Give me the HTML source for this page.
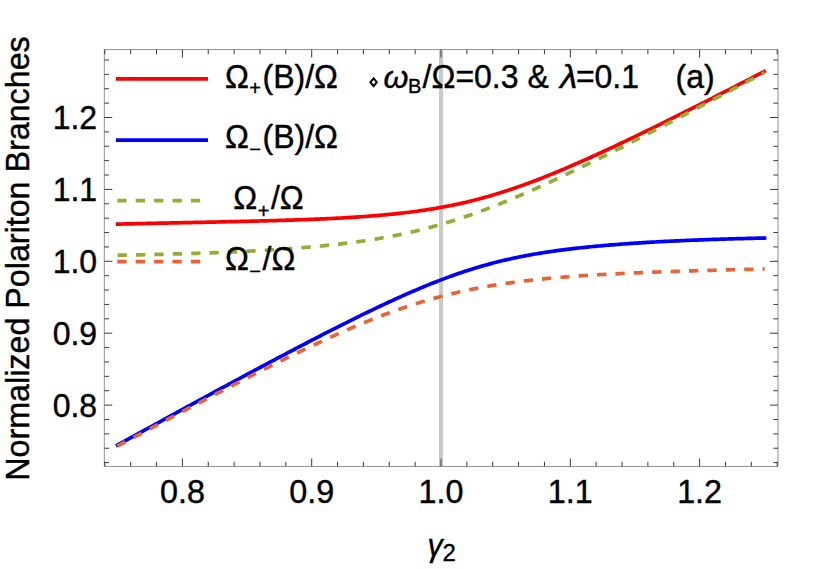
<!DOCTYPE html>
<html><head><meta charset="utf-8"><title>plot</title>
<style>
html,body{margin:0;padding:0;background:#fff;}
body{width:830px;height:569px;overflow:hidden;}
svg{display:block;}
text{font-family:"Liberation Sans",sans-serif;fill:#000;stroke:#000;stroke-width:0.4px;stroke-linejoin:round;}
.i{font-style:italic;}
</style></head><body>
<svg width="830" height="569" viewBox="0 0 830 569">
<rect x="0" y="0" width="830" height="569" fill="#ffffff"/>
<rect x="439" y="49.6" width="4.1" height="416.85" fill="#c9c9c9"/>
<g fill="none" stroke-width="3.7" stroke-linecap="butt" stroke-linejoin="round">
<path d="M115.90,224.19 L117.00,224.16 L119.00,224.11 L121.00,224.07 L123.00,224.02 L125.00,223.97 L127.00,223.92 L129.00,223.88 L131.00,223.83 L133.00,223.78 L135.00,223.74 L137.00,223.69 L139.00,223.65 L141.00,223.60 L143.00,223.56 L145.00,223.51 L147.00,223.47 L149.00,223.42 L151.00,223.38 L153.00,223.34 L155.00,223.29 L157.00,223.25 L159.00,223.21 L161.00,223.16 L163.00,223.12 L165.00,223.08 L167.00,223.03 L169.00,222.99 L171.00,222.95 L173.00,222.91 L175.00,222.87 L177.00,222.82 L179.00,222.78 L181.00,222.74 L183.00,222.70 L185.00,222.66 L187.00,222.61 L189.00,222.57 L191.00,222.53 L193.00,222.49 L195.00,222.45 L197.00,222.41 L199.00,222.36 L201.00,222.32 L203.00,222.28 L205.00,222.24 L207.00,222.20 L209.00,222.15 L211.00,222.11 L213.00,222.07 L215.00,222.03 L217.00,221.98 L219.00,221.94 L221.00,221.90 L223.00,221.85 L225.00,221.81 L227.00,221.77 L229.00,221.72 L231.00,221.68 L233.00,221.63 L235.00,221.59 L237.00,221.54 L239.00,221.50 L241.00,221.45 L243.00,221.40 L245.00,221.36 L247.00,221.31 L249.00,221.26 L251.00,221.21 L253.00,221.16 L255.00,221.11 L257.00,221.06 L259.00,221.01 L261.00,220.96 L263.00,220.91 L265.00,220.85 L267.00,220.80 L269.00,220.75 L271.00,220.69 L273.00,220.64 L275.00,220.58 L277.00,220.52 L279.00,220.46 L281.00,220.40 L283.00,220.34 L285.00,220.28 L287.00,220.22 L289.00,220.16 L291.00,220.09 L293.00,220.03 L295.00,219.96 L297.00,219.89 L299.00,219.82 L301.00,219.75 L303.00,219.68 L305.00,219.61 L307.00,219.53 L309.00,219.45 L311.00,219.38 L313.00,219.30 L315.00,219.22 L317.00,219.13 L319.00,219.05 L321.00,218.96 L323.00,218.87 L325.00,218.78 L327.00,218.69 L329.00,218.60 L331.00,218.50 L333.00,218.40 L335.00,218.30 L337.00,218.20 L339.00,218.09 L341.00,217.99 L343.00,217.88 L345.00,217.76 L347.00,217.65 L349.00,217.53 L351.00,217.41 L353.00,217.29 L355.00,217.16 L357.00,217.03 L359.00,216.90 L361.00,216.76 L363.00,216.62 L365.00,216.48 L367.00,216.33 L369.00,216.18 L371.00,216.03 L373.00,215.87 L375.00,215.71 L377.00,215.55 L379.00,215.38 L381.00,215.20 L383.00,215.03 L385.00,214.84 L387.00,214.66 L389.00,214.46 L391.00,214.27 L393.00,214.07 L395.00,213.86 L397.00,213.65 L399.00,213.43 L401.00,213.21 L403.00,212.98 L405.00,212.75 L407.00,212.51 L409.00,212.26 L411.00,212.01 L413.00,211.75 L415.00,211.49 L417.00,211.22 L419.00,210.94 L421.00,210.66 L423.00,210.37 L425.00,210.07 L427.00,209.77 L429.00,209.45 L431.00,209.13 L433.00,208.81 L435.00,208.47 L437.00,208.13 L439.00,207.78 L441.00,207.42 L443.00,207.05 L445.00,206.68 L447.00,206.30 L449.00,205.91 L451.00,205.51 L453.00,205.10 L455.00,204.68 L457.00,204.25 L459.00,203.82 L461.00,203.37 L463.00,202.92 L465.00,202.46 L467.00,201.99 L469.00,201.51 L471.00,201.02 L473.00,200.52 L475.00,200.01 L477.00,199.50 L479.00,198.97 L481.00,198.44 L483.00,197.89 L485.00,197.34 L487.00,196.77 L489.00,196.20 L491.00,195.62 L493.00,195.03 L495.00,194.43 L497.00,193.83 L499.00,193.21 L501.00,192.58 L503.00,191.95 L505.00,191.31 L507.00,190.66 L509.00,190.00 L511.00,189.33 L513.00,188.65 L515.00,187.97 L517.00,187.28 L519.00,186.58 L521.00,185.87 L523.00,185.16 L525.00,184.43 L527.00,183.70 L529.00,182.97 L531.00,182.22 L533.00,181.47 L535.00,180.71 L537.00,179.95 L539.00,179.17 L541.00,178.40 L543.00,177.61 L545.00,176.82 L547.00,176.02 L549.00,175.22 L551.00,174.41 L553.00,173.60 L555.00,172.78 L557.00,171.95 L559.00,171.12 L561.00,170.28 L563.00,169.44 L565.00,168.60 L567.00,167.74 L569.00,166.89 L571.00,166.03 L573.00,165.16 L575.00,164.29 L577.00,163.42 L579.00,162.54 L581.00,161.66 L583.00,160.77 L585.00,159.88 L587.00,158.99 L589.00,158.09 L591.00,157.19 L593.00,156.28 L595.00,155.37 L597.00,154.46 L599.00,153.55 L601.00,152.63 L603.00,151.71 L605.00,150.78 L607.00,149.85 L609.00,148.92 L611.00,147.99 L613.00,147.05 L615.00,146.11 L617.00,145.17 L619.00,144.23 L621.00,143.28 L623.00,142.33 L625.00,141.38 L627.00,140.43 L629.00,139.47 L631.00,138.51 L633.00,137.55 L635.00,136.59 L637.00,135.62 L639.00,134.65 L641.00,133.69 L643.00,132.71 L645.00,131.74 L647.00,130.77 L649.00,129.79 L651.00,128.81 L653.00,127.83 L655.00,126.85 L657.00,125.87 L659.00,124.88 L661.00,123.89 L663.00,122.91 L665.00,121.92 L667.00,120.93 L669.00,119.93 L671.00,118.94 L673.00,117.94 L675.00,116.95 L677.00,115.95 L679.00,114.95 L681.00,113.95 L683.00,112.95 L685.00,111.94 L687.00,110.94 L689.00,109.93 L691.00,108.93 L693.00,107.92 L695.00,106.91 L697.00,105.90 L699.00,104.89 L701.00,103.88 L703.00,102.86 L705.00,101.85 L707.00,100.83 L709.00,99.82 L711.00,98.80 L713.00,97.78 L715.00,96.76 L717.00,95.74 L719.00,94.72 L721.00,93.70 L723.00,92.68 L725.00,91.65 L727.00,90.63 L729.00,89.61 L731.00,88.58 L733.00,87.55 L735.00,86.53 L737.00,85.50 L739.00,84.47 L741.00,83.44 L743.00,82.41 L745.00,81.38 L747.00,80.35 L749.00,79.31 L751.00,78.28 L753.00,77.25 L755.00,76.21 L757.00,75.18 L759.00,74.14 L761.00,73.11 L763.00,72.07 L765.00,71.03 L765.80,70.62" stroke="#ff0000"/>
<path d="M115.90,445.92 L117.00,445.32 L119.00,444.22 L121.00,443.12 L123.00,442.02 L125.00,440.92 L127.00,439.82 L129.00,438.72 L131.00,437.63 L133.00,436.53 L135.00,435.43 L137.00,434.33 L139.00,433.23 L141.00,432.14 L143.00,431.04 L145.00,429.94 L147.00,428.85 L149.00,427.75 L151.00,426.65 L153.00,425.56 L155.00,424.46 L157.00,423.37 L159.00,422.27 L161.00,421.18 L163.00,420.08 L165.00,418.99 L167.00,417.89 L169.00,416.80 L171.00,415.71 L173.00,414.61 L175.00,413.52 L177.00,412.43 L179.00,411.34 L181.00,410.24 L183.00,409.15 L185.00,408.06 L187.00,406.97 L189.00,405.88 L191.00,404.79 L193.00,403.70 L195.00,402.61 L197.00,401.52 L199.00,400.44 L201.00,399.35 L203.00,398.26 L205.00,397.18 L207.00,396.09 L209.00,395.00 L211.00,393.92 L213.00,392.83 L215.00,391.75 L217.00,390.67 L219.00,389.58 L221.00,388.50 L223.00,387.42 L225.00,386.34 L227.00,385.26 L229.00,384.18 L231.00,383.10 L233.00,382.02 L235.00,380.94 L237.00,379.87 L239.00,378.79 L241.00,377.71 L243.00,376.64 L245.00,375.56 L247.00,374.49 L249.00,373.42 L251.00,372.35 L253.00,371.27 L255.00,370.20 L257.00,369.13 L259.00,368.07 L261.00,367.00 L263.00,365.93 L265.00,364.87 L267.00,363.80 L269.00,362.74 L271.00,361.67 L273.00,360.61 L275.00,359.55 L277.00,358.49 L279.00,357.43 L281.00,356.38 L283.00,355.32 L285.00,354.26 L287.00,353.21 L289.00,352.16 L291.00,351.11 L293.00,350.05 L295.00,349.01 L297.00,347.96 L299.00,346.91 L301.00,345.87 L303.00,344.82 L305.00,343.78 L307.00,342.74 L309.00,341.70 L311.00,340.67 L313.00,339.63 L315.00,338.60 L317.00,337.57 L319.00,336.53 L321.00,335.51 L323.00,334.48 L325.00,333.46 L327.00,332.43 L329.00,331.41 L331.00,330.39 L333.00,329.38 L335.00,328.36 L337.00,327.35 L339.00,326.34 L341.00,325.33 L343.00,324.33 L345.00,323.32 L347.00,322.32 L349.00,321.33 L351.00,320.33 L353.00,319.34 L355.00,318.35 L357.00,317.36 L359.00,316.38 L361.00,315.40 L363.00,314.42 L365.00,313.45 L367.00,312.48 L369.00,311.51 L371.00,310.55 L373.00,309.59 L375.00,308.63 L377.00,307.68 L379.00,306.73 L381.00,305.78 L383.00,304.84 L385.00,303.90 L387.00,302.97 L389.00,302.04 L391.00,301.12 L393.00,300.20 L395.00,299.29 L397.00,298.38 L399.00,297.47 L401.00,296.57 L403.00,295.68 L405.00,294.79 L407.00,293.90 L409.00,293.03 L411.00,292.16 L413.00,291.29 L415.00,290.43 L417.00,289.58 L419.00,288.73 L421.00,287.89 L423.00,287.05 L425.00,286.23 L427.00,285.41 L429.00,284.59 L431.00,283.79 L433.00,282.99 L435.00,282.20 L437.00,281.41 L439.00,280.64 L441.00,279.87 L443.00,279.11 L445.00,278.36 L447.00,277.62 L449.00,276.88 L451.00,276.16 L453.00,275.44 L455.00,274.73 L457.00,274.03 L459.00,273.34 L461.00,272.66 L463.00,271.99 L465.00,271.33 L467.00,270.67 L469.00,270.03 L471.00,269.40 L473.00,268.77 L475.00,268.16 L477.00,267.55 L479.00,266.96 L481.00,266.37 L483.00,265.79 L485.00,265.23 L487.00,264.67 L489.00,264.12 L491.00,263.59 L493.00,263.06 L495.00,262.54 L497.00,262.03 L499.00,261.53 L501.00,261.04 L503.00,260.56 L505.00,260.09 L507.00,259.63 L509.00,259.18 L511.00,258.73 L513.00,258.30 L515.00,257.87 L517.00,257.45 L519.00,257.04 L521.00,256.64 L523.00,256.24 L525.00,255.86 L527.00,255.48 L529.00,255.11 L531.00,254.75 L533.00,254.39 L535.00,254.05 L537.00,253.71 L539.00,253.37 L541.00,253.05 L543.00,252.73 L545.00,252.41 L547.00,252.11 L549.00,251.81 L551.00,251.51 L553.00,251.22 L555.00,250.94 L557.00,250.67 L559.00,250.39 L561.00,250.13 L563.00,249.87 L565.00,249.61 L567.00,249.36 L569.00,249.12 L571.00,248.88 L573.00,248.64 L575.00,248.41 L577.00,248.19 L579.00,247.97 L581.00,247.75 L583.00,247.54 L585.00,247.33 L587.00,247.12 L589.00,246.92 L591.00,246.73 L593.00,246.53 L595.00,246.34 L597.00,246.16 L599.00,245.97 L601.00,245.79 L603.00,245.62 L605.00,245.45 L607.00,245.28 L609.00,245.11 L611.00,244.95 L613.00,244.79 L615.00,244.63 L617.00,244.47 L619.00,244.32 L621.00,244.17 L623.00,244.02 L625.00,243.88 L627.00,243.74 L629.00,243.60 L631.00,243.46 L633.00,243.33 L635.00,243.20 L637.00,243.07 L639.00,242.94 L641.00,242.81 L643.00,242.69 L645.00,242.57 L647.00,242.45 L649.00,242.33 L651.00,242.22 L653.00,242.10 L655.00,241.99 L657.00,241.88 L659.00,241.77 L661.00,241.67 L663.00,241.56 L665.00,241.46 L667.00,241.36 L669.00,241.26 L671.00,241.16 L673.00,241.07 L675.00,240.97 L677.00,240.88 L679.00,240.79 L681.00,240.70 L683.00,240.61 L685.00,240.52 L687.00,240.44 L689.00,240.35 L691.00,240.27 L693.00,240.19 L695.00,240.11 L697.00,240.03 L699.00,239.95 L701.00,239.88 L703.00,239.80 L705.00,239.73 L707.00,239.66 L709.00,239.59 L711.00,239.52 L713.00,239.45 L715.00,239.38 L717.00,239.32 L719.00,239.25 L721.00,239.19 L723.00,239.12 L725.00,239.06 L727.00,239.00 L729.00,238.94 L731.00,238.88 L733.00,238.83 L735.00,238.77 L737.00,238.72 L739.00,238.66 L741.00,238.61 L743.00,238.56 L745.00,238.51 L747.00,238.46 L749.00,238.41 L751.00,238.36 L753.00,238.31 L755.00,238.27 L757.00,238.22 L759.00,238.18 L761.00,238.13 L763.00,238.09 L765.00,238.05 L766.40,238.02" stroke="#0000ff"/>
<path d="M117.60,255.22 L119.00,255.19 L121.00,255.16 L123.00,255.13 L125.00,255.09 L127.00,255.05 L129.00,255.02 L131.00,254.98 L133.00,254.94 L135.00,254.90 L137.00,254.86 L139.00,254.82 L141.00,254.78 L143.00,254.74 L145.00,254.70 L147.00,254.65 L149.00,254.61 L151.00,254.57 L153.00,254.52 L155.00,254.47 L157.00,254.43 L159.00,254.38 L161.00,254.33 L163.00,254.28 L165.00,254.23 L167.00,254.18 L169.00,254.12 L171.00,254.07 L173.00,254.02 L175.00,253.96 L177.00,253.90 L179.00,253.85 L181.00,253.79 L183.00,253.73 L185.00,253.67 L187.00,253.61 L189.00,253.55 L191.00,253.48 L193.00,253.42 L195.00,253.36 L197.00,253.29 L199.00,253.22 L201.00,253.15 L203.00,253.08 L205.00,253.01 L207.00,252.94 L209.00,252.87 L211.00,252.79 L213.00,252.72 L215.00,252.64 L217.00,252.56 L219.00,252.48 L221.00,252.40 L223.00,252.32 L225.00,252.24 L227.00,252.15 L229.00,252.07 L231.00,251.98 L233.00,251.89 L235.00,251.80 L237.00,251.71 L239.00,251.61 L241.00,251.52 L243.00,251.42 L245.00,251.32 L247.00,251.23 L249.00,251.12 L251.00,251.02 L253.00,250.92 L255.00,250.81 L257.00,250.70 L259.00,250.59 L261.00,250.48 L263.00,250.36 L265.00,250.25 L267.00,250.13 L269.00,250.01 L271.00,249.89 L273.00,249.76 L275.00,249.64 L277.00,249.51 L279.00,249.38 L281.00,249.24 L283.00,249.11 L285.00,248.97 L287.00,248.83 L289.00,248.68 L291.00,248.54 L293.00,248.39 L295.00,248.24 L297.00,248.09 L299.00,247.93 L301.00,247.77 L303.00,247.61 L305.00,247.44 L307.00,247.27 L309.00,247.10 L311.00,246.93 L313.00,246.75 L315.00,246.57 L317.00,246.38 L319.00,246.19 L321.00,246.00 L323.00,245.81 L325.00,245.61 L327.00,245.41 L329.00,245.20 L331.00,244.99 L333.00,244.77 L335.00,244.55 L337.00,244.33 L339.00,244.10 L341.00,243.87 L343.00,243.64 L345.00,243.39 L347.00,243.15 L349.00,242.90 L351.00,242.64 L353.00,242.38 L355.00,242.12 L357.00,241.85 L359.00,241.57 L361.00,241.29 L363.00,241.00 L365.00,240.71 L367.00,240.41 L369.00,240.10 L371.00,239.79 L373.00,239.48 L375.00,239.16 L377.00,238.83 L379.00,238.49 L381.00,238.15 L383.00,237.80 L385.00,237.44 L387.00,237.08 L389.00,236.71 L391.00,236.34 L393.00,235.95 L395.00,235.56 L397.00,235.16 L399.00,234.76 L401.00,234.34 L403.00,233.92 L405.00,233.50 L407.00,233.06 L409.00,232.61 L411.00,232.16 L413.00,231.70 L415.00,231.23 L417.00,230.76 L419.00,230.27 L421.00,229.78 L423.00,229.28 L425.00,228.77 L427.00,228.25 L429.00,227.72 L431.00,227.19 L433.00,226.64 L435.00,226.09 L437.00,225.53 L439.00,224.96 L441.00,224.38 L443.00,223.80 L445.00,223.20 L447.00,222.60 L449.00,221.99 L451.00,221.37 L453.00,220.74 L455.00,220.11 L457.00,219.46 L459.00,218.81 L461.00,218.15 L463.00,217.48 L465.00,216.80 L467.00,216.12 L469.00,215.43 L471.00,214.73 L473.00,214.02 L475.00,213.30 L477.00,212.58 L479.00,211.85 L481.00,211.11 L483.00,210.37 L485.00,209.62 L487.00,208.86 L489.00,208.09 L491.00,207.32 L493.00,206.54 L495.00,205.76 L497.00,204.97 L499.00,204.17 L501.00,203.37 L503.00,202.56 L505.00,201.74 L507.00,200.92 L509.00,200.09 L511.00,199.26 L513.00,198.42 L515.00,197.57 L517.00,196.72 L519.00,195.87 L521.00,195.01 L523.00,194.15 L525.00,193.28 L527.00,192.40 L529.00,191.52 L531.00,190.64 L533.00,189.75 L535.00,188.86 L537.00,187.96 L539.00,187.06 L541.00,186.16 L543.00,185.25 L545.00,184.34 L547.00,183.42 L549.00,182.50 L551.00,181.58 L553.00,180.65 L555.00,179.72 L557.00,178.78 L559.00,177.85 L561.00,176.91 L563.00,175.96 L565.00,175.02 L567.00,174.07 L569.00,173.11 L571.00,172.16 L573.00,171.20 L575.00,170.24 L577.00,169.27 L579.00,168.31 L581.00,167.34 L583.00,166.37 L585.00,165.39 L587.00,164.42 L589.00,163.44 L591.00,162.46 L593.00,161.47 L595.00,160.49 L597.00,159.50 L599.00,158.51 L601.00,157.52 L603.00,156.53 L605.00,155.53 L607.00,154.53 L609.00,153.53 L611.00,152.53 L613.00,151.53 L615.00,150.52 L617.00,149.52 L619.00,148.51 L621.00,147.50 L623.00,146.49 L625.00,145.48 L627.00,144.46 L629.00,143.45 L631.00,142.43 L633.00,141.41 L635.00,140.39 L637.00,139.37 L639.00,138.35 L641.00,137.33 L643.00,136.30 L645.00,135.27 L647.00,134.25 L649.00,133.22 L651.00,132.19 L653.00,131.16 L655.00,130.13 L657.00,129.09 L659.00,128.06 L661.00,127.02 L663.00,125.99 L665.00,124.95 L667.00,123.91 L669.00,122.87 L671.00,121.83 L673.00,120.79 L675.00,119.75 L677.00,118.71 L679.00,117.66 L681.00,116.62 L683.00,115.57 L685.00,114.53 L687.00,113.48 L689.00,112.43 L691.00,111.39 L693.00,110.34 L695.00,109.29 L697.00,108.24 L699.00,107.19 L701.00,106.13 L703.00,105.08 L705.00,104.03 L707.00,102.98 L709.00,101.92 L711.00,100.87 L713.00,99.81 L715.00,98.76 L717.00,97.70 L719.00,96.64 L721.00,95.58 L723.00,94.53 L725.00,93.47 L727.00,92.41 L729.00,91.35 L731.00,90.29 L733.00,89.23 L735.00,88.17 L737.00,87.10 L739.00,86.04 L741.00,84.98 L743.00,83.92 L745.00,82.85 L747.00,81.79 L749.00,80.73 L751.00,79.66 L753.00,78.60 L755.00,77.53 L757.00,76.47 L759.00,75.40 L761.00,74.33 L763.00,73.27 L764.60,72.41" stroke="#8fb032" stroke-dasharray="9.27 9.13"/>
<path d="M117.30,446.12 L118.00,445.75 L120.00,444.69 L122.00,443.62 L124.00,442.56 L126.00,441.50 L128.00,440.44 L130.00,439.37 L132.00,438.31 L134.00,437.25 L136.00,436.19 L138.00,435.12 L140.00,434.06 L142.00,433.00 L144.00,431.94 L146.00,430.88 L148.00,429.82 L150.00,428.76 L152.00,427.70 L154.00,426.64 L156.00,425.58 L158.00,424.52 L160.00,423.46 L162.00,422.40 L164.00,421.34 L166.00,420.28 L168.00,419.22 L170.00,418.16 L172.00,417.11 L174.00,416.05 L176.00,414.99 L178.00,413.94 L180.00,412.88 L182.00,411.83 L184.00,410.78 L186.00,409.72 L188.00,408.67 L190.00,407.62 L192.00,406.56 L194.00,405.51 L196.00,404.46 L198.00,403.41 L200.00,402.36 L202.00,401.32 L204.00,400.27 L206.00,399.22 L208.00,398.18 L210.00,397.13 L212.00,396.09 L214.00,395.04 L216.00,394.00 L218.00,392.96 L220.00,391.92 L222.00,390.88 L224.00,389.84 L226.00,388.80 L228.00,387.77 L230.00,386.73 L232.00,385.70 L234.00,384.67 L236.00,383.64 L238.00,382.61 L240.00,381.58 L242.00,380.55 L244.00,379.52 L246.00,378.50 L248.00,377.48 L250.00,376.46 L252.00,375.44 L254.00,374.42 L256.00,373.40 L258.00,372.39 L260.00,371.37 L262.00,370.36 L264.00,369.35 L266.00,368.35 L268.00,367.34 L270.00,366.34 L272.00,365.34 L274.00,364.34 L276.00,363.34 L278.00,362.35 L280.00,361.35 L282.00,360.36 L284.00,359.38 L286.00,358.39 L288.00,357.41 L290.00,356.43 L292.00,355.45 L294.00,354.48 L296.00,353.51 L298.00,352.54 L300.00,351.57 L302.00,350.61 L304.00,349.65 L306.00,348.69 L308.00,347.74 L310.00,346.79 L312.00,345.84 L314.00,344.90 L316.00,343.96 L318.00,343.03 L320.00,342.09 L322.00,341.17 L324.00,340.24 L326.00,339.32 L328.00,338.41 L330.00,337.49 L332.00,336.59 L334.00,335.68 L336.00,334.79 L338.00,333.89 L340.00,333.00 L342.00,332.12 L344.00,331.24 L346.00,330.36 L348.00,329.50 L350.00,328.63 L352.00,327.77 L354.00,326.92 L356.00,326.07 L358.00,325.23 L360.00,324.39 L362.00,323.56 L364.00,322.74 L366.00,321.92 L368.00,321.11 L370.00,320.30 L372.00,319.50 L374.00,318.71 L376.00,317.92 L378.00,317.14 L380.00,316.37 L382.00,315.60 L384.00,314.84 L386.00,314.09 L388.00,313.34 L390.00,312.61 L392.00,311.87 L394.00,311.15 L396.00,310.44 L398.00,309.73 L400.00,309.03 L402.00,308.33 L404.00,307.65 L406.00,306.97 L408.00,306.30 L410.00,305.64 L412.00,304.99 L414.00,304.34 L416.00,303.71 L418.00,303.08 L420.00,302.46 L422.00,301.85 L424.00,301.24 L426.00,300.65 L428.00,300.06 L430.00,299.48 L432.00,298.91 L434.00,298.35 L436.00,297.80 L438.00,297.25 L440.00,296.72 L442.00,296.19 L444.00,295.67 L446.00,295.16 L448.00,294.65 L450.00,294.16 L452.00,293.67 L454.00,293.19 L456.00,292.72 L458.00,292.26 L460.00,291.81 L462.00,291.36 L464.00,290.92 L466.00,290.49 L468.00,290.07 L470.00,289.65 L472.00,289.25 L474.00,288.85 L476.00,288.45 L478.00,288.07 L480.00,287.69 L482.00,287.32 L484.00,286.96 L486.00,286.60 L488.00,286.25 L490.00,285.91 L492.00,285.57 L494.00,285.24 L496.00,284.92 L498.00,284.60 L500.00,284.29 L502.00,283.99 L504.00,283.69 L506.00,283.40 L508.00,283.11 L510.00,282.83 L512.00,282.55 L514.00,282.28 L516.00,282.02 L518.00,281.76 L520.00,281.51 L522.00,281.26 L524.00,281.02 L526.00,280.78 L528.00,280.55 L530.00,280.32 L532.00,280.09 L534.00,279.87 L536.00,279.66 L538.00,279.45 L540.00,279.24 L542.00,279.04 L544.00,278.84 L546.00,278.65 L548.00,278.46 L550.00,278.27 L552.00,278.09 L554.00,277.91 L556.00,277.73 L558.00,277.56 L560.00,277.39 L562.00,277.23 L564.00,277.07 L566.00,276.91 L568.00,276.75 L570.00,276.60 L572.00,276.45 L574.00,276.30 L576.00,276.16 L578.00,276.02 L580.00,275.88 L582.00,275.74 L584.00,275.61 L586.00,275.48 L588.00,275.35 L590.00,275.23 L592.00,275.10 L594.00,274.98 L596.00,274.86 L598.00,274.74 L600.00,274.63 L602.00,274.52 L604.00,274.40 L606.00,274.30 L608.00,274.19 L610.00,274.08 L612.00,273.98 L614.00,273.88 L616.00,273.78 L618.00,273.68 L620.00,273.58 L622.00,273.49 L624.00,273.39 L626.00,273.30 L628.00,273.21 L630.00,273.12 L632.00,273.03 L634.00,272.95 L636.00,272.86 L638.00,272.78 L640.00,272.69 L642.00,272.61 L644.00,272.53 L646.00,272.45 L648.00,272.37 L650.00,272.30 L652.00,272.22 L654.00,272.15 L656.00,272.07 L658.00,272.00 L660.00,271.93 L662.00,271.86 L664.00,271.79 L666.00,271.72 L668.00,271.65 L670.00,271.58 L672.00,271.51 L674.00,271.45 L676.00,271.38 L678.00,271.32 L680.00,271.25 L682.00,271.19 L684.00,271.13 L686.00,271.06 L688.00,271.00 L690.00,270.94 L692.00,270.88 L694.00,270.82 L696.00,270.76 L698.00,270.70 L700.00,270.65 L702.00,270.59 L704.00,270.53 L706.00,270.47 L708.00,270.42 L710.00,270.36 L712.00,270.31 L714.00,270.25 L716.00,270.20 L718.00,270.14 L720.00,270.09 L722.00,270.03 L724.00,269.98 L726.00,269.93 L728.00,269.88 L730.00,269.82 L732.00,269.77 L734.00,269.72 L736.00,269.67 L738.00,269.62 L740.00,269.57 L742.00,269.51 L744.00,269.46 L746.00,269.41 L748.00,269.36 L750.00,269.31 L752.00,269.26 L754.00,269.21 L756.00,269.16 L758.00,269.11 L760.00,269.07 L762.00,269.02 L764.00,268.97 L764.70,268.95" stroke="#eb6235" stroke-dasharray="9.27 9.13"/>
</g>
<g stroke="#909090" stroke-width="1" fill="none">
<line x1="104.3" y1="49.6" x2="778.0" y2="49.6"/>
<line x1="104.3" y1="466.45" x2="778.0" y2="466.45"/>
<line x1="104.3" y1="49.6" x2="104.3" y2="466.45"/>
<line x1="778.0" y1="49.6" x2="778.0" y2="466.45"/>
</g>
<path d="M104.82,466.45v-4.7M104.82,49.6v4.7M130.68,466.45v-4.7M130.68,49.6v4.7M156.54,466.45v-4.7M156.54,49.6v4.7M182.40,466.45v-8.0M182.40,49.6v8.0M208.26,466.45v-4.7M208.26,49.6v4.7M234.12,466.45v-4.7M234.12,49.6v4.7M259.98,466.45v-4.7M259.98,49.6v4.7M285.84,466.45v-4.7M285.84,49.6v4.7M311.70,466.45v-8.0M311.70,49.6v8.0M337.56,466.45v-4.7M337.56,49.6v4.7M363.42,466.45v-4.7M363.42,49.6v4.7M389.28,466.45v-4.7M389.28,49.6v4.7M415.14,466.45v-4.7M415.14,49.6v4.7M441.00,466.45v-8.0M441.00,49.6v8.0M466.86,466.45v-4.7M466.86,49.6v4.7M492.72,466.45v-4.7M492.72,49.6v4.7M518.58,466.45v-4.7M518.58,49.6v4.7M544.44,466.45v-4.7M544.44,49.6v4.7M570.30,466.45v-8.0M570.30,49.6v8.0M596.16,466.45v-4.7M596.16,49.6v4.7M622.02,466.45v-4.7M622.02,49.6v4.7M647.88,466.45v-4.7M647.88,49.6v4.7M673.74,466.45v-4.7M673.74,49.6v4.7M699.60,466.45v-8.0M699.60,49.6v8.0M725.46,466.45v-4.7M725.46,49.6v4.7M751.32,466.45v-4.7M751.32,49.6v4.7M777.18,466.45v-4.7M777.18,49.6v4.7M104.3,462.62h4.7M778.0,462.62h-4.7M104.3,448.24h4.7M778.0,448.24h-4.7M104.3,433.86h4.7M778.0,433.86h-4.7M104.3,419.48h4.7M778.0,419.48h-4.7M104.3,405.10h8.0M778.0,405.10h-8.0M104.3,390.72h4.7M778.0,390.72h-4.7M104.3,376.34h4.7M778.0,376.34h-4.7M104.3,361.96h4.7M778.0,361.96h-4.7M104.3,347.58h4.7M778.0,347.58h-4.7M104.3,333.20h8.0M778.0,333.20h-8.0M104.3,318.82h4.7M778.0,318.82h-4.7M104.3,304.44h4.7M778.0,304.44h-4.7M104.3,290.06h4.7M778.0,290.06h-4.7M104.3,275.68h4.7M778.0,275.68h-4.7M104.3,261.30h8.0M778.0,261.30h-8.0M104.3,246.92h4.7M778.0,246.92h-4.7M104.3,232.54h4.7M778.0,232.54h-4.7M104.3,218.16h4.7M778.0,218.16h-4.7M104.3,203.78h4.7M778.0,203.78h-4.7M104.3,189.40h8.0M778.0,189.40h-8.0M104.3,175.02h4.7M778.0,175.02h-4.7M104.3,160.64h4.7M778.0,160.64h-4.7M104.3,146.26h4.7M778.0,146.26h-4.7M104.3,131.88h4.7M778.0,131.88h-4.7M104.3,117.50h8.0M778.0,117.50h-8.0M104.3,103.12h4.7M778.0,103.12h-4.7M104.3,88.74h4.7M778.0,88.74h-4.7M104.3,74.36h4.7M778.0,74.36h-4.7M104.3,59.98h4.7M778.0,59.98h-4.7" stroke="#3a3a3a" stroke-width="1" fill="none"/>
<text transform="translate(182.40,503.30) scale(1.01,1.05)" font-size="32" text-anchor="middle">0.8</text>
<text transform="translate(311.70,503.30) scale(1.01,1.05)" font-size="32" text-anchor="middle">0.9</text>
<text transform="translate(441.00,503.30) scale(1.01,1.05)" font-size="32" text-anchor="middle">1.0</text>
<text transform="translate(570.30,503.30) scale(1.01,1.05)" font-size="32" text-anchor="middle">1.1</text>
<text transform="translate(699.60,503.30) scale(1.01,1.05)" font-size="32" text-anchor="middle">1.2</text>
<text transform="translate(97.10,416.90) scale(1.0,1.05)" font-size="32" text-anchor="end">0.8</text>
<text transform="translate(97.10,345.00) scale(1.0,1.05)" font-size="32" text-anchor="end">0.9</text>
<text transform="translate(97.10,273.10) scale(1.0,1.05)" font-size="32" text-anchor="end">1.0</text>
<text transform="translate(97.10,201.20) scale(1.0,1.05)" font-size="32" text-anchor="end">1.1</text>
<text transform="translate(97.10,129.30) scale(1.0,1.05)" font-size="32" text-anchor="end">1.2</text>
<text transform="translate(29.40,258.50) rotate(-90) scale(1.008,1.03)" font-size="32" text-anchor="middle">Normalized Polariton Branches</text>
<text transform="translate(427.60,555.90) scale(0.95,1.0)" font-size="32" class="i">γ</text>
<text transform="translate(442.40,561.00) scale(1.0,0.99)" font-size="24">2</text>
<g fill="none" stroke-width="3.7">
<line x1="115.9" y1="78.9" x2="208" y2="78.9" stroke="#ff0000"/>
<line x1="115.9" y1="140.05" x2="208" y2="140.05" stroke="#0000ff"/>
<line x1="117.3" y1="200.6" x2="208" y2="200.6" stroke="#8fb032" stroke-dasharray="9.27 9.13"/>
<line x1="117.3" y1="261.6" x2="208" y2="261.6" stroke="#eb6235" stroke-dasharray="9.27 9.13"/>
</g>
<text transform="translate(224.90,87.70) scale(1.0,1.05)" font-size="32">Ω</text>
<text transform="translate(249.30,95.10) scale(1.0,1.0)" font-size="20">+</text>
<text transform="translate(262.50,87.70) scale(1.0,1.05)" font-size="32">(B)/Ω</text>
<text transform="translate(224.90,147.90) scale(1.0,1.05)" font-size="32">Ω</text>
<text transform="translate(249.30,155.80) scale(1.0,1.0)" font-size="20">−</text>
<text transform="translate(262.50,147.90) scale(1.0,1.05)" font-size="32">(B)/Ω</text>
<text transform="translate(233.30,209.40) scale(1.0,1.05)" font-size="32">Ω</text>
<text transform="translate(257.70,217.60) scale(1.0,1.0)" font-size="20">+</text>
<text transform="translate(270.90,209.40) scale(1.0,1.05)" font-size="32">/Ω</text>
<text transform="translate(224.90,270.30) scale(1.0,1.05)" font-size="32">Ω</text>
<text transform="translate(249.30,277.60) scale(1.0,1.0)" font-size="20">−</text>
<text transform="translate(262.50,270.30) scale(1.0,1.05)" font-size="32">/Ω</text>
<path d="M373.6,76.7 L378.1,82.25 L373.6,87.8 L369.1,82.25 Z M373.6,79.9 L371.6,82.25 L373.6,84.6 L375.6,82.25 Z" fill="#000" fill-rule="evenodd" stroke="none"/>
<text transform="translate(383.60,87.70) scale(1.0,1.0)" font-size="32" class="i">ω</text>
<text transform="translate(408.00,93.00) scale(1.0,1.05)" font-size="20">B</text>
<text transform="translate(422.60,87.80) scale(1.0,1.05)" font-size="32">/Ω=0.3 &amp; </text>
<text transform="translate(560.00,87.80) scale(1.1,1.05)" font-size="32" class="i">λ</text>
<text transform="translate(575.90,87.80) scale(1.0,1.05)" font-size="32">=0.1</text>
<text transform="translate(675.60,87.80) scale(1.0,1.05)" font-size="32">(a)</text>
</svg>
</body></html>
